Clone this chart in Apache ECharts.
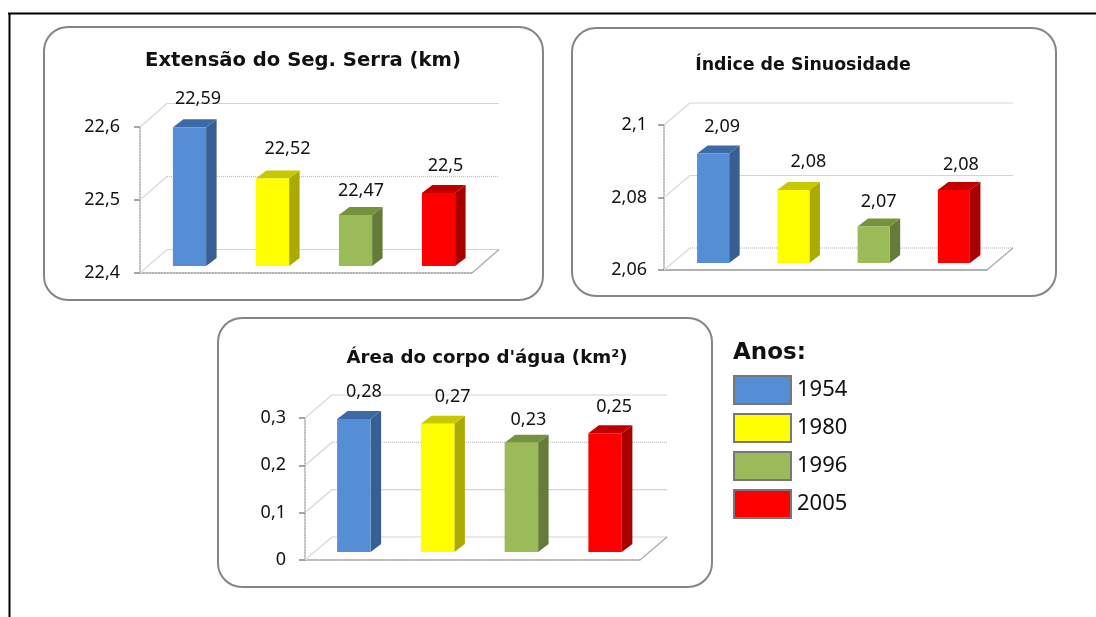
<!DOCTYPE html>
<html>
<head>
<meta charset="utf-8">
<style>html,body{margin:0;padding:0;background:#fff}#c{width:1096px;height:617px}</style>
<script src="https://cdn.jsdelivr.net/npm/echarts@6/dist/echarts.min.js"></script>
</head>
<body>
<div id="c"></div>
<script>
// ---- data ----
const years = ['1954', '1980', '1996', '2005'];
const extensao = [22.59, 22.52, 22.47, 22.5];
const sinuosidade = [2.09, 2.08, 2.07, 2.08];
const area = [0.28, 0.27, 0.23, 0.25];
const extensaoTicks = [22.4, 22.5, 22.6];
const sinuosidadeTicks = [2.06, 2.08, 2.1];
const areaTicks = [0, 0.1, 0.2, 0.3];

// ---- styling ----
const palette = [
  {front: '#558ed5', side: '#375f91', top: '#3d6aa6'},
  {front: '#ffff00', side: '#aaaa00', top: '#c8c800'},
  {front: '#9bbb59', side: '#667a3a', top: '#76923c'},
  {front: '#ff0000', side: '#a80000', top: '#c00000'}
];
const NUM_FONT = '"Noto Sans", sans-serif';
const TITLE_FONT = '"DejaVu Sans", sans-serif';
const GRID_COL = '#d4d4d4';
const INK = '#111';

const charts = [
  {title: 'Extensão do Seg. Serra (km)', titleX: 303, titleY: 61, titleSize: 19.6, values: extensao, ticks: extensaoTicks, interval: 0.1,
   panel: [44, 27, 499, 273], labelMargin: 20,
   front: [140, 127, 332, 146], bars: [148, 120, 332, 146], wall: [27, -23.5],
   labelShift: [[8.5, -28], [15, -30], [5.5, -24], [7, -27]], dotted: 22.5, floorDotted: true},
  {title: 'Índice de Sinuosidade', titleX: 803, titleY: 65, titleSize: 17.4, values: sinuosidade, ticks: sinuosidadeTicks, interval: 0.02,
   panel: [572, 28, 484, 268], labelMargin: 17,
   front: [664, 125, 323, 145], bars: [673, 117, 321, 146], wall: [26, -22],
   labelShift: [[9, -27], [15, -28], [5, -25], [7, -25]], dotted: 2.06, floorDotted: false},
  {title: 'Área do corpo d\'água (km²)', titleX: 487, titleY: 358, titleSize: 18.2, values: area, ticks: areaTicks, interval: 0.1,
   panel: [218, 318, 494, 269], labelMargin: 19,
   front: [305, 418, 335, 142], bars: [312, 409.5, 335, 142.5], wall: [27, -23],
   labelShift: [[10, -27], [15, -27], [7, -23], [9, -26]], dotted: 0.2, floorDotted: true}
];
const BAR_DEPTH = [10.5, -8];

const fmt = v => String(v).replace('.', ',');

const grids = [], xAxes = [], yAxes = [], series = [], titles = [], panels = [];

charts.forEach((c, ci) => {
  const min = c.ticks[0], max = c.ticks[c.ticks.length - 1];
  const fi = grids.length, bi = fi + 1;
  const toGrid = r => ({left: r[0], top: r[1], width: r[2], height: r[3], containLabel: false});
  grids.push(toGrid(c.front), toGrid(c.bars));

  titles.push({
    text: c.title, left: c.titleX, top: c.titleY, textAlign: 'center', textVerticalAlign: 'middle', padding: 0,
    textStyle: {fontFamily: TITLE_FONT, fontWeight: 'bold', fontSize: c.titleSize, color: INK}
  });

  panels.push({
    type: 'rect', z: -10, silent: true,
    shape: {x: c.panel[0], y: c.panel[1], width: c.panel[2], height: c.panel[3], r: 24},
    style: {fill: '#fff', stroke: '#858585', lineWidth: 2}
  });

  // visible front axes
  xAxes.push({
    gridIndex: fi, type: 'category', data: years,
    axisLabel: {show: false}, axisTick: {show: false},
    axisLine: {show: true, onZero: false, lineStyle: {color: '#999', width: 1.5, type: c.floorDotted ? 'dotted' : 'solid'}},
    splitLine: {show: false}
  });
  yAxes.push({
    gridIndex: fi, type: 'value', min: min, max: max, interval: c.interval,
    axisLabel: {color: INK, fontFamily: NUM_FONT, fontSize: 18, margin: c.labelMargin, formatter: fmt},
    axisTick: {show: true, length: 6, lineStyle: {color: '#888', width: 1.5}},
    axisLine: {show: true, onZero: false, lineStyle: {color: '#aaa', width: 1.5, type: 'dotted'}},
    splitLine: {show: false}
  });
  // hidden axes of the plane the bars stand on
  xAxes.push({gridIndex: bi, type: 'category', data: years, show: false});
  yAxes.push({gridIndex: bi, type: 'value', min: min, max: max, interval: c.interval, show: false, splitLine: {show: false}});

  // back wall: slanted side lines and horizontal gridlines
  series.push({
    type: 'custom', silent: true, clip: false, z: 1, xAxisIndex: fi, yAxisIndex: fi,
    data: c.ticks.map(v => [0, v]),
    renderItem(params, api) {
      const v = api.value(1);
      const sys = params.coordSys;
      const y = api.coord([0, v])[1];
      const bx = sys.x + c.wall[0], by = y + c.wall[1];
      const bxr = sys.x + sys.width + c.wall[0];
      const children = [
        {type: 'line', shape: {x1: sys.x, y1: y, x2: bx, y2: by}, style: {stroke: '#dcdcdc', lineWidth: 1.5}},
        {type: 'line', shape: {x1: bx, y1: by, x2: bxr, y2: by},
         style: {stroke: v === c.dotted ? '#bdbdbd' : GRID_COL, lineWidth: 1.2, lineDash: v === c.dotted ? [1, 1] : null}}
      ];
      if (v === min) {
        children.push({type: 'line', shape: {x1: sys.x + sys.width, y1: y, x2: bxr, y2: by}, style: {stroke: '#a8a8a8', lineWidth: 1.2}});
      }
      return {type: 'group', children};
    }
  });

  // one 3-D column per year
  years.forEach((year, i) => {
    const col = palette[i];
    series.push({
      type: 'custom', name: year, silent: true, clip: false, z: 3, xAxisIndex: bi, yAxisIndex: bi,
      itemStyle: {color: col.front},
      data: [[i, c.values[i]]],
      renderItem(params, api) {
        const val = api.value(1);
        const t = api.coord([api.value(0), val]);
        const b = api.coord([api.value(0), min]);
        const w = api.size([1, 0])[0] * 0.4;
        const l = t[0] - w / 2, r = t[0] + w / 2, dx = BAR_DEPTH[0], dy = BAR_DEPTH[1];
        const shift = c.labelShift[i];
        return {type: 'group', children: [
          {type: 'polygon', shape: {points: [[r, t[1]], [r + dx, t[1] + dy], [r + dx, b[1] + dy], [r, b[1]]]}, style: {fill: col.side}},
          {type: 'polygon', shape: {points: [[l, t[1]], [l + dx, t[1] + dy], [r + dx, t[1] + dy], [r, t[1]]]}, style: {fill: col.top}},
          {type: 'rect', shape: {x: l, y: t[1], width: w, height: b[1] - t[1]}, style: {fill: col.front}},
          {type: 'text', style: {text: fmt(val), x: t[0] + shift[0], y: t[1] + shift[1], align: 'center', verticalAlign: 'middle',
            font: '18px ' + NUM_FONT, fill: INK}}
        ]};
      }
    });
  });
});

titles.push({
  text: 'Anos:', left: 733, top: 353, textVerticalAlign: 'middle', padding: 0,
  textStyle: {fontFamily: TITLE_FONT, fontWeight: 'bold', fontSize: 23, color: INK}
});

const frame = [
  {type: 'line', silent: true, z: -20, shape: {x1: 8, y1: 13.5, x2: 1096, y2: 13.5}, style: {stroke: '#000', lineWidth: 2}},
  {type: 'line', silent: true, z: -20, shape: {x1: 9.5, y1: 13, x2: 9.5, y2: 617}, style: {stroke: '#000', lineWidth: 2}}
];

const chart = echarts.init(document.getElementById('c'), null, {renderer: 'canvas'});
chart.setOption({
  backgroundColor: '#fff',
  animation: false,
  title: titles,
  grid: grids,
  xAxis: xAxes,
  yAxis: yAxes,
  series: series,
  graphic: {elements: frame.concat(panels)},
  tooltip: {show: false},
  legend: {
    orient: 'vertical', left: 733, top: 375, itemWidth: 57, itemHeight: 28, itemGap: 8, padding: 0,
    selectedMode: false, icon: 'rect',
    data: years.map((y, i) => ({name: y, icon: 'rect', itemStyle: {color: palette[i].front, borderColor: '#777', borderWidth: 2}})),
    textStyle: {fontFamily: NUM_FONT, fontSize: 22, lineHeight: 28, color: INK, padding: [0, 0, 0, 1]}
  }
});
</script>
</body>
</html>
